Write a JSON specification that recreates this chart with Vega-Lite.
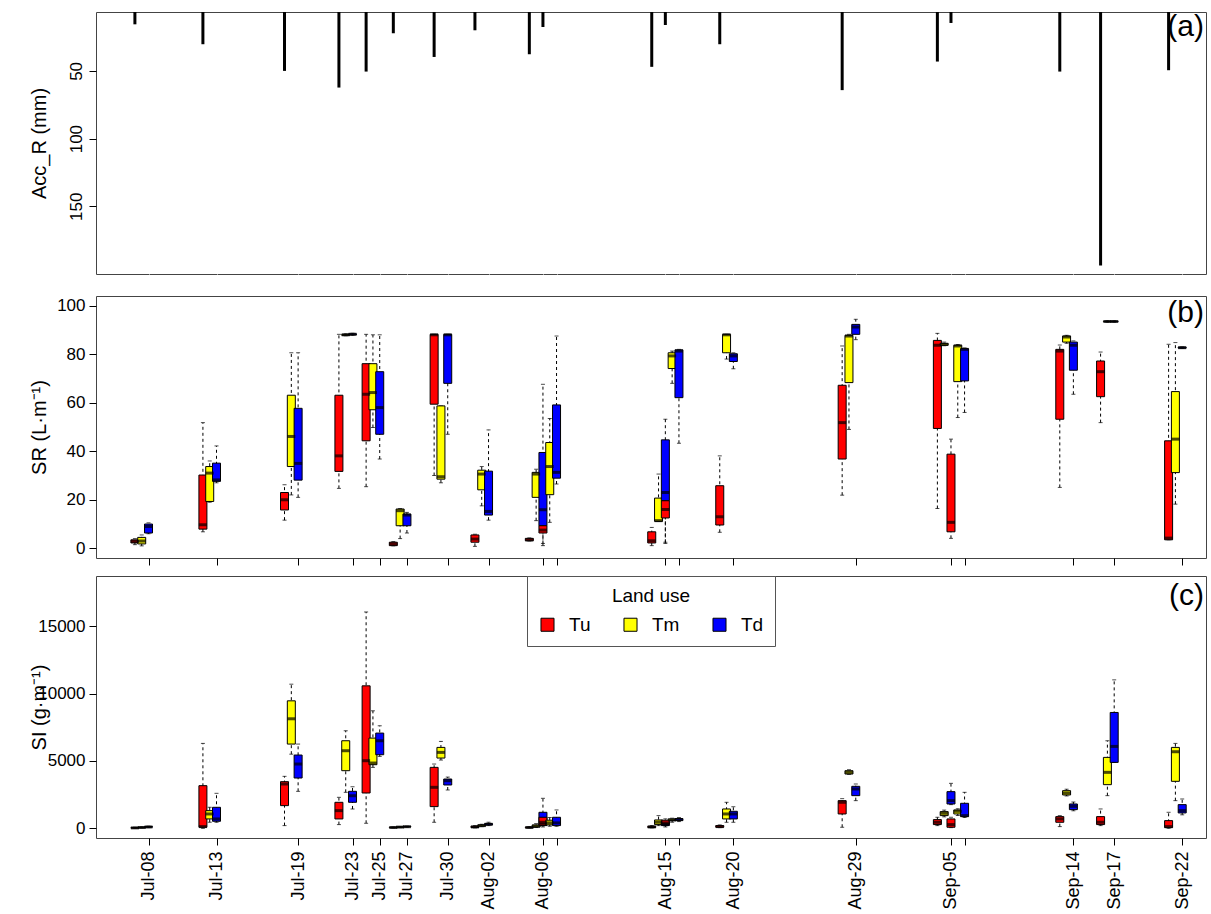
{
  "$schema": "https://vega.github.io/schema/vega-lite/v6.json",
  "padding": {"left": 28, "top": 11, "right": 4, "bottom": 2},
  "background": "white",
  "config": {
    "font": "Liberation Sans",
    "view": {"stroke": "#444", "strokeWidth": 1},
    "axis": {"labelColor": "black", "titleColor": "black", "tickColor": "black", "titleFontWeight": "normal", "labelFontSize": 17, "titleFontSize": 20, "grid": false, "domain": false, "tickSize": 7, "labelPadding": 4},
    "title": {"fontSize": 30, "fontWeight": "normal", "color": "black", "anchor": "end", "frame": "group", "baseline": "bottom", "dx": -2}
  },
  "spacing": 9,
  "resolve": {"scale": {"color": "independent"}, "legend": {"color": "independent"}},
  "datasets": {
    "rain": [
      {"d": 8, "r": 15.6}, {"d": 13, "r": 30.3}, {"d": 19, "r": 50}, {"d": 23, "r": 62.3}, {"d": 25, "r": 50.5},
      {"d": 27, "r": 22.2}, {"d": 30, "r": 39.7}, {"d": 33, "r": 20}, {"d": 37, "r": 37.7}, {"d": 38, "r": 17.6},
      {"d": 46, "r": 47}, {"d": 47, "r": 16.1}, {"d": 51, "r": 30.3}, {"d": 60, "r": 64.2}, {"d": 67, "r": 43.1},
      {"d": 68, "r": 14.6}, {"d": 76, "r": 50.5}, {"d": 79, "r": 193.8}, {"d": 84, "r": 49.5}
    ],
    "sr": [
      {"d": 8, "u": "Tu", "lo": 1.5, "q1": 2.2, "md": 2.8, "q3": 3.5, "hi": 4},
      {"d": 8, "u": "Tm", "lo": 1, "q1": 1.8, "md": 3, "q3": 4.5, "hi": 5.5},
      {"d": 8, "u": "Td", "lo": 6, "q1": 6.3, "md": 9, "q3": 10, "hi": 10.5},
      {"d": 13, "u": "Tu", "lo": 6.8, "q1": 7.9, "md": 9.7, "q3": 30.2, "hi": 51.8},
      {"d": 13, "u": "Tm", "lo": 19, "q1": 19.3, "md": 31, "q3": 33.7, "hi": 36},
      {"d": 13, "u": "Td", "lo": 27, "q1": 27.6, "md": 28.2, "q3": 35.1, "hi": 42.2},
      {"d": 19, "u": "Tu", "lo": 11.6, "q1": 15.8, "md": 20, "q3": 23, "hi": 26.2},
      {"d": 19, "u": "Tm", "lo": 22, "q1": 33.7, "md": 46.1, "q3": 63.1, "hi": 80.6},
      {"d": 19, "u": "Td", "lo": 21, "q1": 28.1, "md": 35, "q3": 57.7, "hi": 80.6},
      {"d": 23, "u": "Tu", "lo": 24.7, "q1": 31.7, "md": 38.1, "q3": 63.1, "hi": 88.2},
      {"d": 23, "u": "Tm", "lo": 87.6, "q1": 87.8, "md": 88, "q3": 88.2, "hi": 88.4},
      {"d": 23, "u": "Td", "lo": 87.8, "q1": 88, "md": 88.2, "q3": 88.4, "hi": 88.6},
      {"d": 25, "u": "Tu", "lo": 25.4, "q1": 44.3, "md": 63.5, "q3": 76.1, "hi": 88.2},
      {"d": 25, "u": "Tm", "lo": 49.8, "q1": 57.1, "md": 64.2, "q3": 76.1, "hi": 88},
      {"d": 25, "u": "Td", "lo": 36.8, "q1": 47, "md": 58, "q3": 72.8, "hi": 88},
      {"d": 27, "u": "Tu", "lo": 1, "q1": 1.1, "md": 1.8, "q3": 2.5, "hi": 2.8},
      {"d": 27, "u": "Tm", "lo": 4, "q1": 9.3, "md": 15.5, "q3": 16.2, "hi": 16.4},
      {"d": 27, "u": "Td", "lo": 6.3, "q1": 9.3, "md": 13.7, "q3": 14.1, "hi": 14.8},
      {"d": 30, "u": "Tu", "lo": 30, "q1": 59.4, "md": 88, "q3": 88.2, "hi": 88.2},
      {"d": 30, "u": "Tm", "lo": 27, "q1": 28.5, "md": 29.5, "q3": 58.7, "hi": 58.7},
      {"d": 30, "u": "Td", "lo": 47, "q1": 68, "md": 88, "q3": 88.2, "hi": 88.2},
      {"d": 33, "u": "Tu", "lo": 0.8, "q1": 2.5, "md": 3.8, "q3": 5.5, "hi": 5.8},
      {"d": 33, "u": "Tm", "lo": 17.5, "q1": 24.1, "md": 30.6, "q3": 32.2, "hi": 33.7},
      {"d": 33, "u": "Td", "lo": 11.6, "q1": 13.7, "md": 15.2, "q3": 31.8, "hi": 48.8},
      {"d": 37, "u": "Tu", "lo": 3, "q1": 3.1, "md": 3.5, "q3": 4.1, "hi": 4.3},
      {"d": 37, "u": "Tm", "lo": 11.4, "q1": 21, "md": 30.6, "q3": 31.3, "hi": 32.6},
      {"d": 37, "u": "Td", "lo": 1.1, "q1": 9.3, "md": 15.9, "q3": 39.5, "hi": 67.6},
      {"d": 38, "u": "Tu", "lo": 2, "q1": 6.3, "md": 7.5, "q3": 9.3, "hi": 12},
      {"d": 38, "u": "Tm", "lo": 10.7, "q1": 22.1, "md": 33.7, "q3": 43.6, "hi": 53.5},
      {"d": 38, "u": "Td", "lo": 26.5, "q1": 28.9, "md": 31.3, "q3": 59.1, "hi": 87.5},
      {"d": 46, "u": "Tu", "lo": 1.1, "q1": 2.2, "md": 3.1, "q3": 6.8, "hi": 8.6},
      {"d": 46, "u": "Tm", "lo": 11.1, "q1": 11.1, "md": 11.4, "q3": 20.7, "hi": 30.6},
      {"d": 46, "u": "Td", "lo": 2.5, "q1": 19.6, "md": 23, "q3": 44.7, "hi": 53.2},
      {"d": 47, "u": "Tu", "lo": 2, "q1": 12.5, "md": 16, "q3": 19.6, "hi": 20},
      {"d": 47, "u": "Tm", "lo": 68, "q1": 74.1, "md": 79.3, "q3": 80.6, "hi": 81.3},
      {"d": 47, "u": "Td", "lo": 43.3, "q1": 62.1, "md": 81.3, "q3": 81.8, "hi": 82},
      {"d": 51, "u": "Tu", "lo": 6.6, "q1": 9.6, "md": 13, "q3": 25.8, "hi": 38.1},
      {"d": 51, "u": "Tm", "lo": 78, "q1": 80.6, "md": 88, "q3": 88.2, "hi": 88.2},
      {"d": 51, "u": "Td", "lo": 74, "q1": 77, "md": 79.3, "q3": 80.2, "hi": 80.6},
      {"d": 60, "u": "Tu", "lo": 21.9, "q1": 36.8, "md": 51.8, "q3": 67.2, "hi": 83.4},
      {"d": 60, "u": "Tm", "lo": 49, "q1": 68.3, "md": 87.5, "q3": 87.8, "hi": 88.2},
      {"d": 60, "u": "Td", "lo": 86, "q1": 88.2, "md": 91.2, "q3": 92.3, "hi": 94.4},
      {"d": 67, "u": "Tu", "lo": 16.4, "q1": 49.4, "md": 83.7, "q3": 85.7, "hi": 88.6},
      {"d": 67, "u": "Tm", "lo": 83.5, "q1": 83.7, "md": 84, "q3": 84.5, "hi": 85},
      {"d": 68, "u": "Tu", "lo": 4.1, "q1": 6.8, "md": 10.7, "q3": 38.8, "hi": 45},
      {"d": 68, "u": "Tm", "lo": 53.9, "q1": 68.7, "md": 83.4, "q3": 83.7, "hi": 84},
      {"d": 68, "u": "Td", "lo": 56, "q1": 69, "md": 82, "q3": 82.3, "hi": 82.6},
      {"d": 76, "u": "Tu", "lo": 25.1, "q1": 53.2, "md": 81.3, "q3": 82, "hi": 83.8},
      {"d": 76, "u": "Tm", "lo": 84.5, "q1": 85, "md": 87.1, "q3": 87.5, "hi": 87.8},
      {"d": 76, "u": "Td", "lo": 63.5, "q1": 73.4, "md": 83.7, "q3": 85, "hi": 85.5},
      {"d": 79, "u": "Tu", "lo": 51.8, "q1": 62.5, "md": 72.8, "q3": 77.2, "hi": 80.9},
      {"d": 79, "u": "Tm", "lo": 93.2, "q1": 93.4, "md": 93.5, "q3": 93.6, "hi": 93.8},
      {"d": 79, "u": "Td", "lo": 93.2, "q1": 93.4, "md": 93.5, "q3": 93.6, "hi": 93.8},
      {"d": 84, "u": "Tu", "lo": 3.5, "q1": 3.5, "md": 4.2, "q3": 44.3, "hi": 84.1},
      {"d": 84, "u": "Tm", "lo": 18.2, "q1": 31.2, "md": 45, "q3": 64.6, "hi": 84.8},
      {"d": 84, "u": "Td", "lo": 82.4, "q1": 82.5, "md": 82.7, "q3": 82.9, "hi": 83}
    ],
    "si": [
      {"d": 8, "u": "Tu", "lo": 0, "q1": 10, "md": 30, "q3": 50, "hi": 80},
      {"d": 8, "u": "Tm", "lo": 20, "q1": 40, "md": 60, "q3": 80, "hi": 110},
      {"d": 8, "u": "Td", "lo": 50, "q1": 80, "md": 100, "q3": 130, "hi": 160},
      {"d": 13, "u": "Tu", "lo": 0, "q1": 77, "md": 126, "q3": 3163, "hi": 6299},
      {"d": 13, "u": "Tm", "lo": 450, "q1": 694, "md": 1064, "q3": 1311, "hi": 1560},
      {"d": 13, "u": "Td", "lo": 447, "q1": 521, "md": 694, "q3": 1558, "hi": 2595},
      {"d": 19, "u": "Tu", "lo": 200, "q1": 1682, "md": 3287, "q3": 3460, "hi": 3855},
      {"d": 19, "u": "Tm", "lo": 5500, "q1": 6249, "md": 8126, "q3": 9459, "hi": 10693},
      {"d": 19, "u": "Td", "lo": 2743, "q1": 3731, "md": 4768, "q3": 5435, "hi": 6249},
      {"d": 23, "u": "Tu", "lo": 275, "q1": 694, "md": 1311, "q3": 1929, "hi": 2299},
      {"d": 23, "u": "Tm", "lo": 2670, "q1": 4274, "md": 5756, "q3": 6496, "hi": 7237},
      {"d": 23, "u": "Td", "lo": 1435, "q1": 1929, "md": 2422, "q3": 2743, "hi": 3089},
      {"d": 25, "u": "Tu", "lo": 373, "q1": 2620, "md": 5015, "q3": 10570, "hi": 16051},
      {"d": 25, "u": "Tm", "lo": 4521, "q1": 4719, "md": 4842, "q3": 6694, "hi": 8718},
      {"d": 25, "u": "Td", "lo": 5336, "q1": 5459, "md": 6496, "q3": 7064, "hi": 7607},
      {"d": 27, "u": "Tu", "lo": 20, "q1": 40, "md": 60, "q3": 80, "hi": 100},
      {"d": 27, "u": "Tm", "lo": 50, "q1": 70, "md": 90, "q3": 110, "hi": 130},
      {"d": 27, "u": "Td", "lo": 80, "q1": 100, "md": 120, "q3": 140, "hi": 160},
      {"d": 30, "u": "Tu", "lo": 447, "q1": 1608, "md": 3040, "q3": 4521, "hi": 4768},
      {"d": 30, "u": "Tm", "lo": 5064, "q1": 5212, "md": 5632, "q3": 6002, "hi": 6447},
      {"d": 30, "u": "Td", "lo": 2842, "q1": 3213, "md": 3534, "q3": 3657, "hi": 3800},
      {"d": 33, "u": "Tu", "lo": 30, "q1": 60, "md": 100, "q3": 150, "hi": 200},
      {"d": 33, "u": "Tm", "lo": 120, "q1": 160, "md": 200, "q3": 250, "hi": 300},
      {"d": 33, "u": "Td", "lo": 200, "q1": 250, "md": 300, "q3": 350, "hi": 450},
      {"d": 37, "u": "Tu", "lo": 20, "q1": 40, "md": 60, "q3": 90, "hi": 120},
      {"d": 37, "u": "Tm", "lo": 60, "q1": 100, "md": 150, "q3": 250, "hi": 350},
      {"d": 37, "u": "Td", "lo": 200, "q1": 250, "md": 447, "q3": 1188, "hi": 2225},
      {"d": 38, "u": "Tu", "lo": 100, "q1": 200, "md": 300, "q3": 818, "hi": 1000},
      {"d": 38, "u": "Tm", "lo": 150, "q1": 250, "md": 400, "q3": 600, "hi": 800},
      {"d": 38, "u": "Td", "lo": 150, "q1": 200, "md": 400, "q3": 818, "hi": 1361},
      {"d": 46, "u": "Tu", "lo": 30, "q1": 60, "md": 100, "q3": 150, "hi": 200},
      {"d": 46, "u": "Tm", "lo": 200, "q1": 274, "md": 450, "q3": 620, "hi": 941},
      {"d": 46, "u": "Td", "lo": 100, "q1": 200, "md": 300, "q3": 450, "hi": 550},
      {"d": 47, "u": "Tu", "lo": 200, "q1": 300, "md": 400, "q3": 600, "hi": 700},
      {"d": 47, "u": "Tm", "lo": 450, "q1": 570, "md": 620, "q3": 690, "hi": 750},
      {"d": 47, "u": "Td", "lo": 500, "q1": 570, "md": 650, "q3": 720, "hi": 800},
      {"d": 51, "u": "Tu", "lo": 50, "q1": 77, "md": 126, "q3": 200, "hi": 250},
      {"d": 51, "u": "Tm", "lo": 447, "q1": 694, "md": 1064, "q3": 1435, "hi": 1929},
      {"d": 51, "u": "Td", "lo": 447, "q1": 694, "md": 1064, "q3": 1262, "hi": 1600},
      {"d": 60, "u": "Tu", "lo": 77, "q1": 1064, "md": 1929, "q3": 2052, "hi": 2200},
      {"d": 60, "u": "Tm", "lo": 4000, "q1": 4027, "md": 4151, "q3": 4274, "hi": 4350},
      {"d": 60, "u": "Td", "lo": 2052, "q1": 2422, "md": 2916, "q3": 3114, "hi": 3287},
      {"d": 67, "u": "Tu", "lo": 200, "q1": 275, "md": 447, "q3": 645, "hi": 818},
      {"d": 67, "u": "Tm", "lo": 850, "q1": 941, "md": 1114, "q3": 1238, "hi": 1350},
      {"d": 67, "u": "Td", "lo": 1756, "q1": 1805, "md": 2052, "q3": 2719, "hi": 3336},
      {"d": 68, "u": "Tu", "lo": 50, "q1": 77, "md": 275, "q3": 694, "hi": 818},
      {"d": 68, "u": "Tm", "lo": 950, "q1": 1064, "md": 1262, "q3": 1361, "hi": 1450},
      {"d": 68, "u": "Td", "lo": 800, "q1": 867, "md": 941, "q3": 1854, "hi": 2669},
      {"d": 76, "u": "Tu", "lo": 126, "q1": 447, "md": 694, "q3": 867, "hi": 941},
      {"d": 76, "u": "Tm", "lo": 2400, "q1": 2472, "md": 2620, "q3": 2793, "hi": 2900},
      {"d": 76, "u": "Td", "lo": 1300, "q1": 1385, "md": 1632, "q3": 1805, "hi": 1950},
      {"d": 79, "u": "Tu", "lo": 200, "q1": 275, "md": 447, "q3": 867, "hi": 1435},
      {"d": 79, "u": "Tm", "lo": 2422, "q1": 3237, "md": 4151, "q3": 5262, "hi": 6496},
      {"d": 79, "u": "Td", "lo": 4891, "q1": 4891, "md": 6076, "q3": 8595, "hi": 11014},
      {"d": 84, "u": "Tu", "lo": 0, "q1": 50, "md": 126, "q3": 570, "hi": 1188},
      {"d": 84, "u": "Tm", "lo": 2052, "q1": 3484, "md": 5681, "q3": 6002, "hi": 6299},
      {"d": 84, "u": "Td", "lo": 1000, "q1": 1139, "md": 1311, "q3": 1756, "hi": 2175}
    ]
  },
  "vconcat": [
    {
      "width": 1110,
      "height": 262,
      "title": {"text": "(a)", "offset": -30},
      "data": {"name": "rain"},
      "mark": {"type": "rule", "color": "black", "strokeWidth": 3, "xOffset": -13.6, "clip": true},
      "encoding": {
        "x": {"field": "d", "type": "quantitative", "scale": {"domain": [4.14, 85.75], "nice": false, "zero": false},
              "axis": {"title": null, "labels": false, "tickColor": "white", "tickSize": 11, "values": [8, 13, 19, 23, 25, 27, 30, 33, 37, 38, 46, 47, 51, 60, 67, 68, 76, 79, 84]}},
        "y": {"field": "r", "type": "quantitative", "scale": {"domain": [6.5, 200], "reverse": true, "nice": false, "zero": false},
              "axis": {"title": "Acc_R (mm)", "values": [50, 100, 150], "labelAngle": 270, "labelAlign": "center", "labelBaseline": "bottom", "titleX": -57, "titleBaseline": "middle"}},
        "y2": {"datum": 0}
      }
    },
    {
      "width": 1110,
      "height": 262,
      "title": {"text": "(b)", "offset": -32},
      "data": {"name": "sr"},
      "encoding": {
        "x": {"field": "d", "type": "quantitative", "scale": {"domain": [4.14, 85.75], "nice": false, "zero": false},
              "axis": {"title": null, "labels": false, "values": [8, 13, 19, 23, 25, 27, 30, 33, 37, 38, 46, 47, 51, 60, 67, 68, 76, 79, 84]}}
      },
      "layer": [
        {
          "mark": {"type": "rule", "color": "black", "strokeWidth": 1, "strokeDash": [3, 3], "xOffset": {"expr": "datum.u === 'Tu' ? -13.6 : datum.u === 'Tm' ? -6.8 : 0"}},
          "encoding": {
            "y": {"field": "lo", "type": "quantitative", "scale": {"domain": [-4, 104], "nice": false, "zero": false},
                  "title": "SR (L·m⁻¹)", "axis": {"values": [0, 20, 40, 60, 80, 100], "titleX": -57, "titleBaseline": "middle"}},
            "y2": {"field": "hi"}
          }
        },
        {
          "mark": {"type": "tick", "orient": "horizontal", "color": "black", "size": 4, "thickness": 1, "xOffset": {"expr": "datum.u === 'Tu' ? -13.6 : datum.u === 'Tm' ? -6.8 : 0"}},
          "encoding": {"y": {"field": "hi", "type": "quantitative", "title": "SR (L·m⁻¹)"}}
        },
        {
          "mark": {"type": "tick", "orient": "horizontal", "color": "black", "size": 4, "thickness": 1, "xOffset": {"expr": "datum.u === 'Tu' ? -13.6 : datum.u === 'Tm' ? -6.8 : 0"}},
          "encoding": {"y": {"field": "lo", "type": "quantitative", "title": "SR (L·m⁻¹)"}}
        },
        {
          "mark": {"type": "rect", "stroke": "black", "strokeWidth": 1,
                   "xOffset": {"expr": "(datum.u === 'Tu' ? -13.6 : datum.u === 'Tm' ? -6.8 : 0) - 4"},
                   "x2Offset": {"expr": "(datum.u === 'Tu' ? -13.6 : datum.u === 'Tm' ? -6.8 : 0) + 4"}},
          "encoding": {
            "x2": {"field": "d"},
            "y": {"field": "q1", "type": "quantitative", "title": "SR (L·m⁻¹)"},
            "y2": {"field": "q3"},
            "color": {"field": "u", "type": "nominal", "scale": {"domain": ["Tu", "Tm", "Td"], "range": ["#ff0000", "#ffff00", "#0000ff"]}, "legend": null}
          }
        },
        {
          "mark": {"type": "tick", "orient": "horizontal", "color": "black", "size": 8, "thickness": 3, "xOffset": {"expr": "datum.u === 'Tu' ? -13.6 : datum.u === 'Tm' ? -6.8 : 0"}},
          "encoding": {"y": {"field": "md", "type": "quantitative", "title": "SR (L·m⁻¹)"}}
        }
      ]
    },
    {
      "width": 1110,
      "height": 262,
      "title": {"text": "(c)", "offset": -35},
      "data": {"name": "si"},
      "encoding": {
        "x": {"field": "d", "type": "quantitative", "scale": {"domain": [4.14, 85.75], "nice": false, "zero": false},
              "axis": {"title": null, "values": [8, 13, 19, 23, 25, 27, 30, 33, 37, 38, 46, 47, 51, 60, 67, 68, 76, 79, 84],
                       "labelExpr": "indexof([38, 47, 68], datum.value) >= 0 ? '' : timeFormat(datetime(2019, 6, datum.value), '%b-%d')",
                       "labelAngle": 270, "labelAlign": "right", "labelBaseline": "middle", "labelFontSize": 18, "labelPadding": 6}}
      },
      "layer": [
        {
          "mark": {"type": "rule", "color": "black", "strokeWidth": 1, "strokeDash": [3, 3], "xOffset": {"expr": "datum.u === 'Tu' ? -13.6 : datum.u === 'Tm' ? -6.8 : 0"}},
          "encoding": {
            "y": {"field": "lo", "type": "quantitative", "scale": {"domain": [-720, 18720], "nice": false, "zero": false},
                  "title": "SI (g·m⁻¹)", "axis": {"values": [0, 5000, 10000, 15000], "format": "d", "titleX": -57, "titleBaseline": "middle"}},
            "y2": {"field": "hi"}
          }
        },
        {
          "mark": {"type": "tick", "orient": "horizontal", "color": "black", "size": 4, "thickness": 1, "xOffset": {"expr": "datum.u === 'Tu' ? -13.6 : datum.u === 'Tm' ? -6.8 : 0"}},
          "encoding": {"y": {"field": "hi", "type": "quantitative", "title": "SI (g·m⁻¹)"}}
        },
        {
          "mark": {"type": "tick", "orient": "horizontal", "color": "black", "size": 4, "thickness": 1, "xOffset": {"expr": "datum.u === 'Tu' ? -13.6 : datum.u === 'Tm' ? -6.8 : 0"}},
          "encoding": {"y": {"field": "lo", "type": "quantitative", "title": "SI (g·m⁻¹)"}}
        },
        {
          "mark": {"type": "rect", "stroke": "black", "strokeWidth": 1,
                   "xOffset": {"expr": "(datum.u === 'Tu' ? -13.6 : datum.u === 'Tm' ? -6.8 : 0) - 4"},
                   "x2Offset": {"expr": "(datum.u === 'Tu' ? -13.6 : datum.u === 'Tm' ? -6.8 : 0) + 4"}},
          "encoding": {
            "x2": {"field": "d"},
            "y": {"field": "q1", "type": "quantitative", "title": "SI (g·m⁻¹)"},
            "y2": {"field": "q3"},
            "color": {"field": "u", "type": "nominal", "scale": {"domain": ["Tu", "Tm", "Td"], "range": ["#ff0000", "#ffff00", "#0000ff"]},
                      "legend": {"title": "Land use", "orient": "none", "legendX": 431, "legendY": 0, "direction": "horizontal", "columns": 3,
                                 "titleAnchor": "middle", "titleFontSize": 19, "titleFontWeight": "normal", "titleColor": "black", "labelFontSize": 19, "labelColor": "black",
                                 "symbolType": "square", "symbolSize": 170, "symbolStrokeColor": "black", "symbolStrokeWidth": 1,
                                 "strokeColor": "#555", "fillColor": "white", "padding": 11, "columnPadding": 30, "labelOffset": 12, "titlePadding": 9}}
          }
        },
        {
          "mark": {"type": "tick", "orient": "horizontal", "color": "black", "size": 8, "thickness": 3, "xOffset": {"expr": "datum.u === 'Tu' ? -13.6 : datum.u === 'Tm' ? -6.8 : 0"}},
          "encoding": {"y": {"field": "md", "type": "quantitative", "title": "SI (g·m⁻¹)"}}
        }
      ]
    }
  ]
}
